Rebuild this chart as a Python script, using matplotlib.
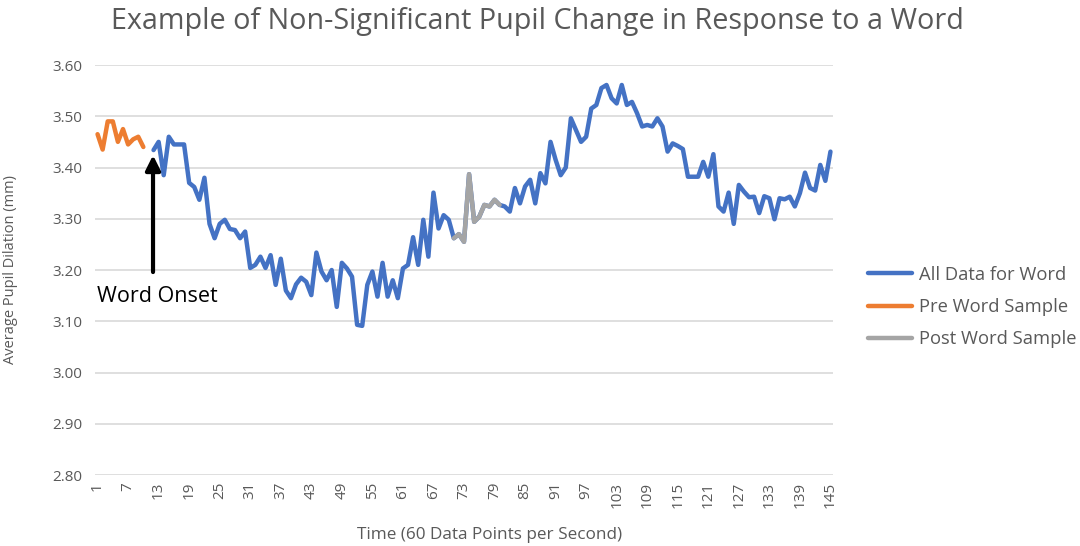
import matplotlib
matplotlib.use('Agg')
import matplotlib.pyplot as plt
import numpy as np
from matplotlib.ticker import FormatStrFormatter

plt.rcParams['font.family'] = ['Open Sans', 'DejaVu Sans']

# ---- data ----
title = "Example of Non-Significant Pupil Change in Response to a Word"
y_label = "Average Pupil Dilation (mm)"
x_label = "Time (60 Data Points per Second)"

pre_word_start = 1
pre_word = [3.465, 3.435, 3.49, 3.49, 3.45, 3.475, 3.445, 3.455, 3.46, 3.44]

all_data_start = 12
all_data = [
    3.434, 3.45, 3.385, 3.46, 3.445, 3.445, 3.445, 3.37, 3.362, 3.337,   # 12-21
    3.38, 3.29, 3.262, 3.29, 3.298, 3.28, 3.278, 3.262, 3.275, 3.204,    # 22-31
    3.21, 3.226, 3.204, 3.229, 3.171, 3.222, 3.16, 3.145, 3.172, 3.185,  # 32-41
    3.177, 3.151, 3.234, 3.197, 3.18, 3.20, 3.128, 3.214, 3.203, 3.187,  # 42-51
    3.093, 3.091, 3.171, 3.197, 3.148, 3.214, 3.148, 3.18, 3.145, 3.203, # 52-61
    3.21, 3.264, 3.21, 3.298, 3.226, 3.351, 3.281, 3.307, 3.298, 3.262,  # 62-71
    3.27, 3.255, 3.387, 3.294, 3.304, 3.327, 3.324, 3.337, 3.327, 3.324, # 72-81
    3.314, 3.36, 3.33, 3.363, 3.376, 3.33, 3.389, 3.369, 3.45, 3.415,    # 82-91
    3.385, 3.40, 3.496, 3.473, 3.45, 3.46, 3.515, 3.522, 3.555, 3.561,   # 92-101
    3.535, 3.525, 3.561, 3.522, 3.528, 3.506, 3.48, 3.483, 3.48, 3.496,  # 102-111
    3.48, 3.431, 3.447, 3.442, 3.436, 3.382, 3.382, 3.382, 3.411, 3.382, # 112-121
    3.426, 3.324, 3.314, 3.351, 3.29, 3.366, 3.353, 3.342, 3.343, 3.311, # 122-131
    3.344, 3.34, 3.299, 3.34, 3.338, 3.343, 3.324, 3.35, 3.39, 3.36,     # 132-141
    3.355, 3.405, 3.374, 3.431,                                          # 142-145
]

post_word_start = 71
post_word = [3.262, 3.27, 3.255, 3.387, 3.294, 3.304, 3.327, 3.324, 3.337, 3.327]

n_points = 145
x_ticks = list(range(1, n_points + 1, 6))
y_ticks = [2.80, 2.90, 3.00, 3.10, 3.20, 3.30, 3.40, 3.50, 3.60]

onset_x = 11.9
onset_tip = 3.424
onset_tail = 3.196

# ---- figure ----
W, H = 1080, 546
fig = plt.figure(figsize=(W / 100, H / 100), dpi=100)
ax = fig.add_axes([95 / W, (H - 475) / H, (833 - 95) / W, (475 - 65) / H])

lw = 3.2
ax.plot(np.arange(all_data_start, all_data_start + len(all_data)), all_data,
        color='#4472C4', lw=lw, solid_joinstyle='round', solid_capstyle='round',
        label='All Data for Word', zorder=3)
ax.plot(np.arange(pre_word_start, pre_word_start + len(pre_word)), pre_word,
        color='#ED7D31', lw=lw, solid_joinstyle='round', solid_capstyle='round',
        label='Pre Word Sample', zorder=4)
ax.plot(np.arange(post_word_start, post_word_start + len(post_word)), post_word,
        color='#A5A5A5', lw=lw, solid_joinstyle='round', solid_capstyle='round',
        label='Post Word Sample', zorder=5)

ax.set_xlim(0.5, n_points + 0.5)
ax.set_ylim(2.8, 3.6)
ax.set_yticks(y_ticks)
ax.yaxis.set_major_formatter(FormatStrFormatter('%.2f'))
ax.set_xticks(x_ticks)
ax.set_xticklabels([str(t) for t in x_ticks], rotation=90)
ax.tick_params(axis='both', length=0, colors='#595959', labelsize=11)
ax.tick_params(axis='y', pad=9)
ax.tick_params(axis='x', pad=5)
ax.yaxis.grid(True, color='#D9D9D9', lw=1.2)
ax.set_axisbelow(True)
for s in ax.spines.values():
    s.set_visible(False)

ax.set_ylabel(y_label, fontsize=10.5, color='#595959')
ax.yaxis.set_label_coords(-77 / 738, 0.5)
ax.set_xlabel(x_label, fontsize=12.3, color='#595959')
ax.xaxis.set_label_coords((490 - 95) / 738, -(535 - 475) / 410)
ax.xaxis.label.set_va('center')

fig.text(537.5 / W, 1 - 22 / H, title, ha='center', va='center',
         fontsize=20.7, color='#595959')

ax.annotate('', xy=(onset_x, onset_tip), xytext=(onset_x, onset_tail),
            arrowprops=dict(arrowstyle='-|>', color='black', lw=3,
                            mutation_scale=22, shrinkA=0, shrinkB=0), zorder=6)
ax.text(0.9, 3.149, 'Word Onset', fontsize=15.5, ha='left', va='center', color='black')

fig.legend(loc='center left', bbox_to_anchor=(851 / W, 1 - 307 / H), frameon=False,
           fontsize=13.2, handlelength=2.4, labelspacing=0.78, handletextpad=0.4,
           labelcolor='#595959')

fig.savefig('out.png', dpi=100)
